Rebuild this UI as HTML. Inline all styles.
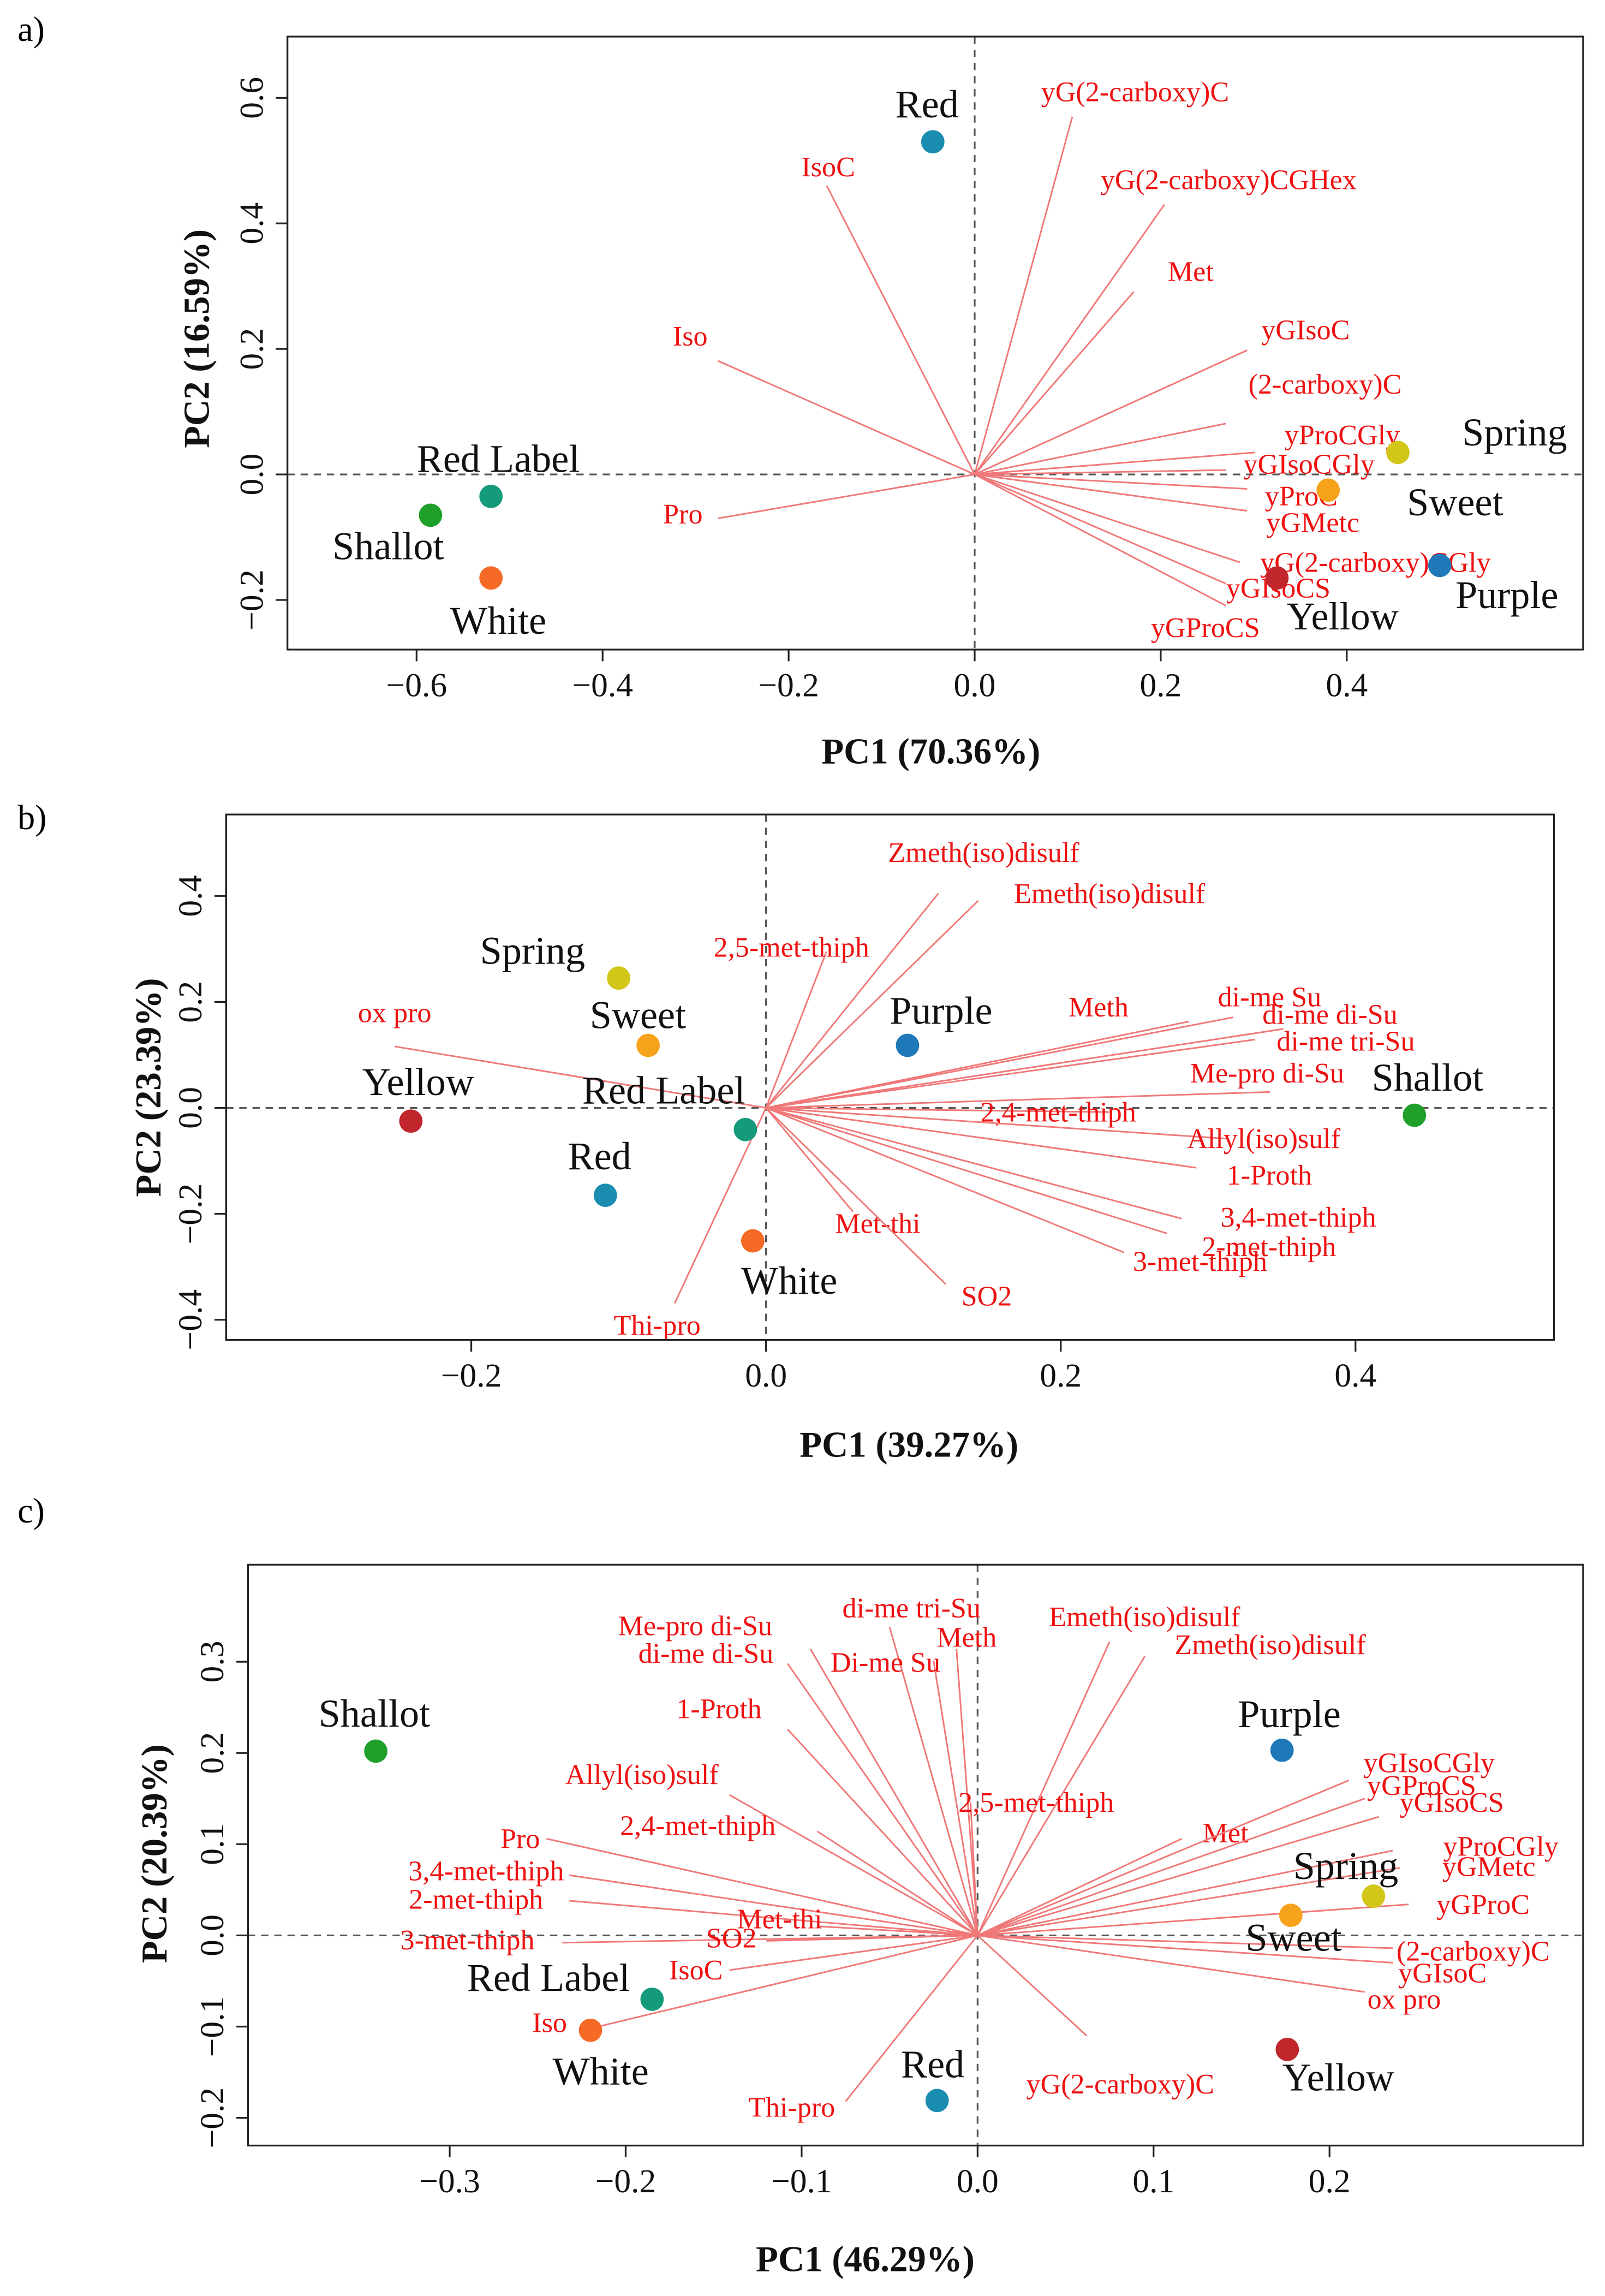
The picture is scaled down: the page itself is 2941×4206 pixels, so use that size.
<!DOCTYPE html>
<html><head><meta charset="utf-8">
<style>
html,body{margin:0;padding:0;background:#fff;}
svg{display:block;}
text{font-family:"Liberation Serif",serif;}
</style></head>
<body>
<svg id="fig" width="2941" height="4206" viewBox="0 0 1100 1573" xmlns="http://www.w3.org/2000/svg"></svg>
<script>
// ===== Panel a data =====
const aScoreNames = ["Red","Red Label","Shallot","White","Spring","Sweet","Purple","Yellow"];
const aScoreX = [-0.045,-0.52,-0.585,-0.52,0.455,0.38,0.5,0.325];
const aScoreY = [0.53,-0.035,-0.065,-0.165,0.035,-0.025,-0.145,-0.165];
const aLoadNames = ["yG(2-carboxy)C","yG(2-carboxy)CGHex","Met","yGIsoC","(2-carboxy)C","yProCGly","yGIsoCGly","yProC","yGMetc","yG(2-carboxy)CGly","yGIsoCS","yGProCS","IsoC","Iso","Pro"];
const aLoadX = [0.105,0.204,0.171,0.293,0.270,0.301,0.270,0.293,0.293,0.285,0.270,0.270,-0.159,-0.276,-0.276];
const aLoadY = [0.57,0.430,0.291,0.198,0.081,0.035,0.007,-0.023,-0.058,-0.140,-0.174,-0.209,0.460,0.181,-0.070];
const aXTicks = [-0.6,-0.4,-0.2,0.0,0.2,0.4];
const aYTicks = [-0.2,0.0,0.2,0.4,0.6];
// ===== Panel b data =====
const bScoreNames = ["Spring","Sweet","Purple","Yellow","Red Label","Red","White","Shallot"];
const bScoreX = [-0.100,-0.080,0.096,-0.241,-0.014,-0.109,-0.009,0.440];
const bScoreY = [0.245,0.118,0.118,-0.025,-0.041,-0.165,-0.251,-0.014];
const bLoadNames = ["Zmeth(iso)disulf","Emeth(iso)disulf","2,5-met-thiph","ox pro","Meth","di-me Su","di-me di-Su","di-me tri-Su","Me-pro di-Su","2,4-met-thiph","Allyl(iso)sulf","1-Proth","3,4-met-thiph","2-met-thiph","3-met-thiph","Met-thi","SO2","Thi-pro"];
const bLoadX = [0.117,0.144,0.041,-0.252,0.287,0.317,0.351,0.332,0.342,0.233,0.312,0.292,0.282,0.272,0.243,0.059,0.122,-0.062];
const bLoadY = [0.405,0.391,0.295,0.116,0.163,0.171,0.149,0.129,0.030,-0.008,-0.058,-0.113,-0.209,-0.237,-0.273,-0.196,-0.333,-0.369];
const bXTicks = [-0.2,0.0,0.2,0.4];
const bYTicks = [-0.4,-0.2,0.0,0.2,0.4];
// ===== Panel c data =====
const cScoreNames = ["Shallot","Purple","Spring","Sweet","Red Label","White","Yellow","Red"];
const cScoreX = [-0.342,0.173,0.225,0.178,-0.185,-0.220,0.176,-0.023];
const cScoreY = [0.202,0.203,0.043,0.022,-0.070,-0.104,-0.125,-0.181];
const cLoadNames = ["Me-pro di-Su","di-me di-Su","di-me tri-Su","Meth","Di-me Su","Emeth(iso)disulf","Zmeth(iso)disulf","1-Proth","Allyl(iso)sulf","2,5-met-thiph","2,4-met-thiph","Pro","3,4-met-thiph","2-met-thiph","3-met-thiph","Met-thi","SO2","IsoC","Iso","Thi-pro","yG(2-carboxy)C","Met","yGIsoCGly","yGProCS","yGIsoCS","yProCGly","yGMetc","yGProC","(2-carboxy)C","yGIsoC","ox pro"];
const cLoadX = [-0.095,-0.108,-0.050,-0.012,-0.025,0.075,0.095,-0.108,-0.141,-0.004,-0.091,-0.245,-0.232,-0.232,-0.236,-0.091,-0.120,-0.141,-0.220,-0.075,0.062,0.116,0.211,0.220,0.228,0.236,0.240,0.245,0.236,0.236,0.220];
const cLoadY = [0.314,0.298,0.338,0.314,0.301,0.322,0.306,0.226,0.154,0.146,0.114,0.106,0.066,0.038,-0.008,0.010,-0.006,-0.038,-0.102,-0.182,-0.110,0.106,0.170,0.150,0.130,0.093,0.074,0.034,-0.014,-0.030,-0.062];
const cXTicks = [-0.3,-0.2,-0.1,0.0,0.1,0.2];
const cYTicks = [-0.2,-0.1,0.0,0.1,0.2,0.3];

const colors = {"Red":"#1a8db0","Red Label":"#169a7c","Shallot":"#1fa02a","White":"#f56a25","Spring":"#d2c618","Sweet":"#f7a21b","Purple":"#1f78b8","Yellow":"#c0262c"};

const NS="http://www.w3.org/2000/svg";
const svg=document.getElementById('fig');
function mk(tag,attrs,parent){const e=document.createElementNS(NS,tag);for(const k in attrs)e.setAttribute(k,attrs[k]);(parent||svg).appendChild(e);return e;}
function fmt(v){const s=Math.abs(v).toFixed(1);return (v<0?"\u2212":"")+s;}

function panel(p){
  const g=mk('g',{});
  
  
  const X=v=>p.x0+v*p.sx, Y=v=>p.y0-v*p.sy;
  const lab=mk('text',{x:12,y:p.tagY,'font-size':24,fill:'#000'},g);lab.textContent=p.id+')';
  
  
  const h=mk('line',{x1:p.L,x2:p.R,y1:Y(0),y2:Y(0),stroke:'#555','stroke-dasharray':'5,4','stroke-width':1.2},g);
  
  
  const v=mk('line',{x1:X(0),x2:X(0),y1:p.T,y2:p.B,stroke:'#555','stroke-dasharray':'5,4','stroke-width':1.2},g);
  
  
  p.ln.forEach((n,i)=>{
    const l=mk('line',{x1:X(0),y1:Y(0),x2:X(p.lx[i]),y2:Y(p.ly[i]),stroke:'#f07878','stroke-width':1.1},g);
    
    
    const o=p.lo[i];
    const t=mk('text',{x:X(p.lx[i])+o[0],y:Y(p.ly[i])+o[1],'font-size':19.5,fill:'#ee1111','text-anchor':'middle','dominant-baseline':'middle'},g);
    t.textContent=n;
    
    
  });
  p.sn.forEach((n,i)=>{
    const c=mk('circle',{cx:X(p.px[i]),cy:Y(p.py[i]),r:8,fill:colors[n]},g);
    
    
    const o=p.so[i];
    const t=mk('text',{x:X(p.px[i])+o[0],y:Y(p.py[i])+o[1],'font-size':27,fill:'#111','text-anchor':'middle','dominant-baseline':'middle'},g);
    t.textContent=n;
    
    
  });
  const b=mk('rect',{x:p.L,y:p.T,width:p.R-p.L,height:p.B-p.T,fill:'none',stroke:'#222','stroke-width':1.2},g);
  
  
  p.xt.forEach(tv=>{
    const tk=mk('line',{x1:X(tv),x2:X(tv),y1:p.B,y2:p.B+8,stroke:'#222','stroke-width':1.2},g);
    
    
    const t=mk('text',{x:X(tv),y:p.B+32,'font-size':23,'text-anchor':'middle',fill:'#111'},g);
    t.textContent=fmt(tv);
    
    
  });
  p.yt.forEach(tv=>{
    const tk=mk('line',{x1:p.L-8,x2:p.L,y1:Y(tv),y2:Y(tv),stroke:'#222','stroke-width':1.2},g);
    
    
    const t=mk('text',{x:0,y:0,'font-size':23,'text-anchor':'middle',fill:'#111',transform:`translate(${p.L-17},${Y(tv)}) rotate(-90)`},g);
    t.textContent=fmt(tv);
    
    
  });
  const xt=mk('text',{x:p.xtx,y:p.xty,'font-size':25,'font-weight':'bold','text-anchor':'middle',fill:'#111'},g);
  xt.textContent=p.xtitle;
  
  
  const yt=mk('text',{x:0,y:0,'font-size':25,'font-weight':'bold','text-anchor':'middle',fill:'#111',transform:`translate(${p.ytx},${p.yty}) rotate(-90)`},g);
  yt.textContent=p.ytitle;
  
  
}

panel({id:'a',tagY:28,L:197,R:1085,T:25,B:445,x0:668,sx:637.5,y0:325,sy:430,
  sn:aScoreNames,px:aScoreX,py:aScoreY,
  so:[[-4,-23],[5,-23],[-29,24],[5,32],[80,-11],[87,11],[46,23],[45,29]],
  ln:aLoadNames,lx:aLoadX,ly:aLoadY,
  lo:[[43,-15],[44,-15],[39,-12],[40,-12],[68,-25],[60,-10],[57,-2],[37,7],[45,10],[93,2],[36,5],[-14,17],[1,-11],[-19,-15],[-24,-1]],
  xt:aXTicks,yt:aYTicks,xtitle:'PC1 (70.36%)',xtx:638,xty:523,ytitle:'PC2 (16.59%)',ytx:143,yty:232});
panel({id:'b',tagY:568,L:155,R:1065,T:558,B:918,x0:525,sx:1010,y0:759,sy:363,
  sn:bScoreNames,px:bScoreX,py:bScoreY,
  so:[[-59,-16],[-7,-18],[23,-21],[5,-24],[-56,-24],[-4,-24],[25,30],[9,-23]],
  ln:bLoadNames,lx:bLoadX,ly:bLoadY,
  lo:[[31,-26],[90,-3],[-24,-1],[0,-21],[-62,-8],[25,-12],[32,-8],[62,3],[-2,-11],[-35,2],[26,2],[50,7],[80,1],[70,11],[52,8],[17,10],[28,10],[-12,17]],
  xt:bXTicks,yt:bYTicks,xtitle:'PC1 (39.27%)',xtx:623,xty:998,ytitle:'PC2 (23.39%)',ytx:110,yty:745});
panel({id:'c',tagY:1043,L:170,R:1085,T:1072,B:1470,x0:670,sx:1206,y0:1326,sy:625,
  sn:cScoreNames,px:cScoreX,py:cScoreY,
  so:[[-1,-23],[5,-22],[-19,-18],[2,18],[-71,-12],[7,31],[35,22],[-3,-22]],
  ln:cLoadNames,lx:cLoadX,ly:cLoadY,
  lo:[[-79,-14],[-56,-5],[15,-11],[7,-6],[-33,3],[24,-15],[86,-6],[-47,-12],[-60,-12],[45,2],[-82,-2],[-18,2],[-57,-1],[-64,1],[-65,0],[-26,-3],[-24,0],[-23,2],[-28,-2],[-37,6],[23,35],[30,-2],[55,-10],[39,-7],[50,-8],[74,-1],[61,1],[51,2],[55,4],[34,9],[27,7]],
  xt:cXTicks,yt:cYTicks,xtitle:'PC1 (46.29%)',xtx:593,xty:1556,ytitle:'PC2 (20.39%)',ytx:114,yty:1270});
</script>
</body></html>
